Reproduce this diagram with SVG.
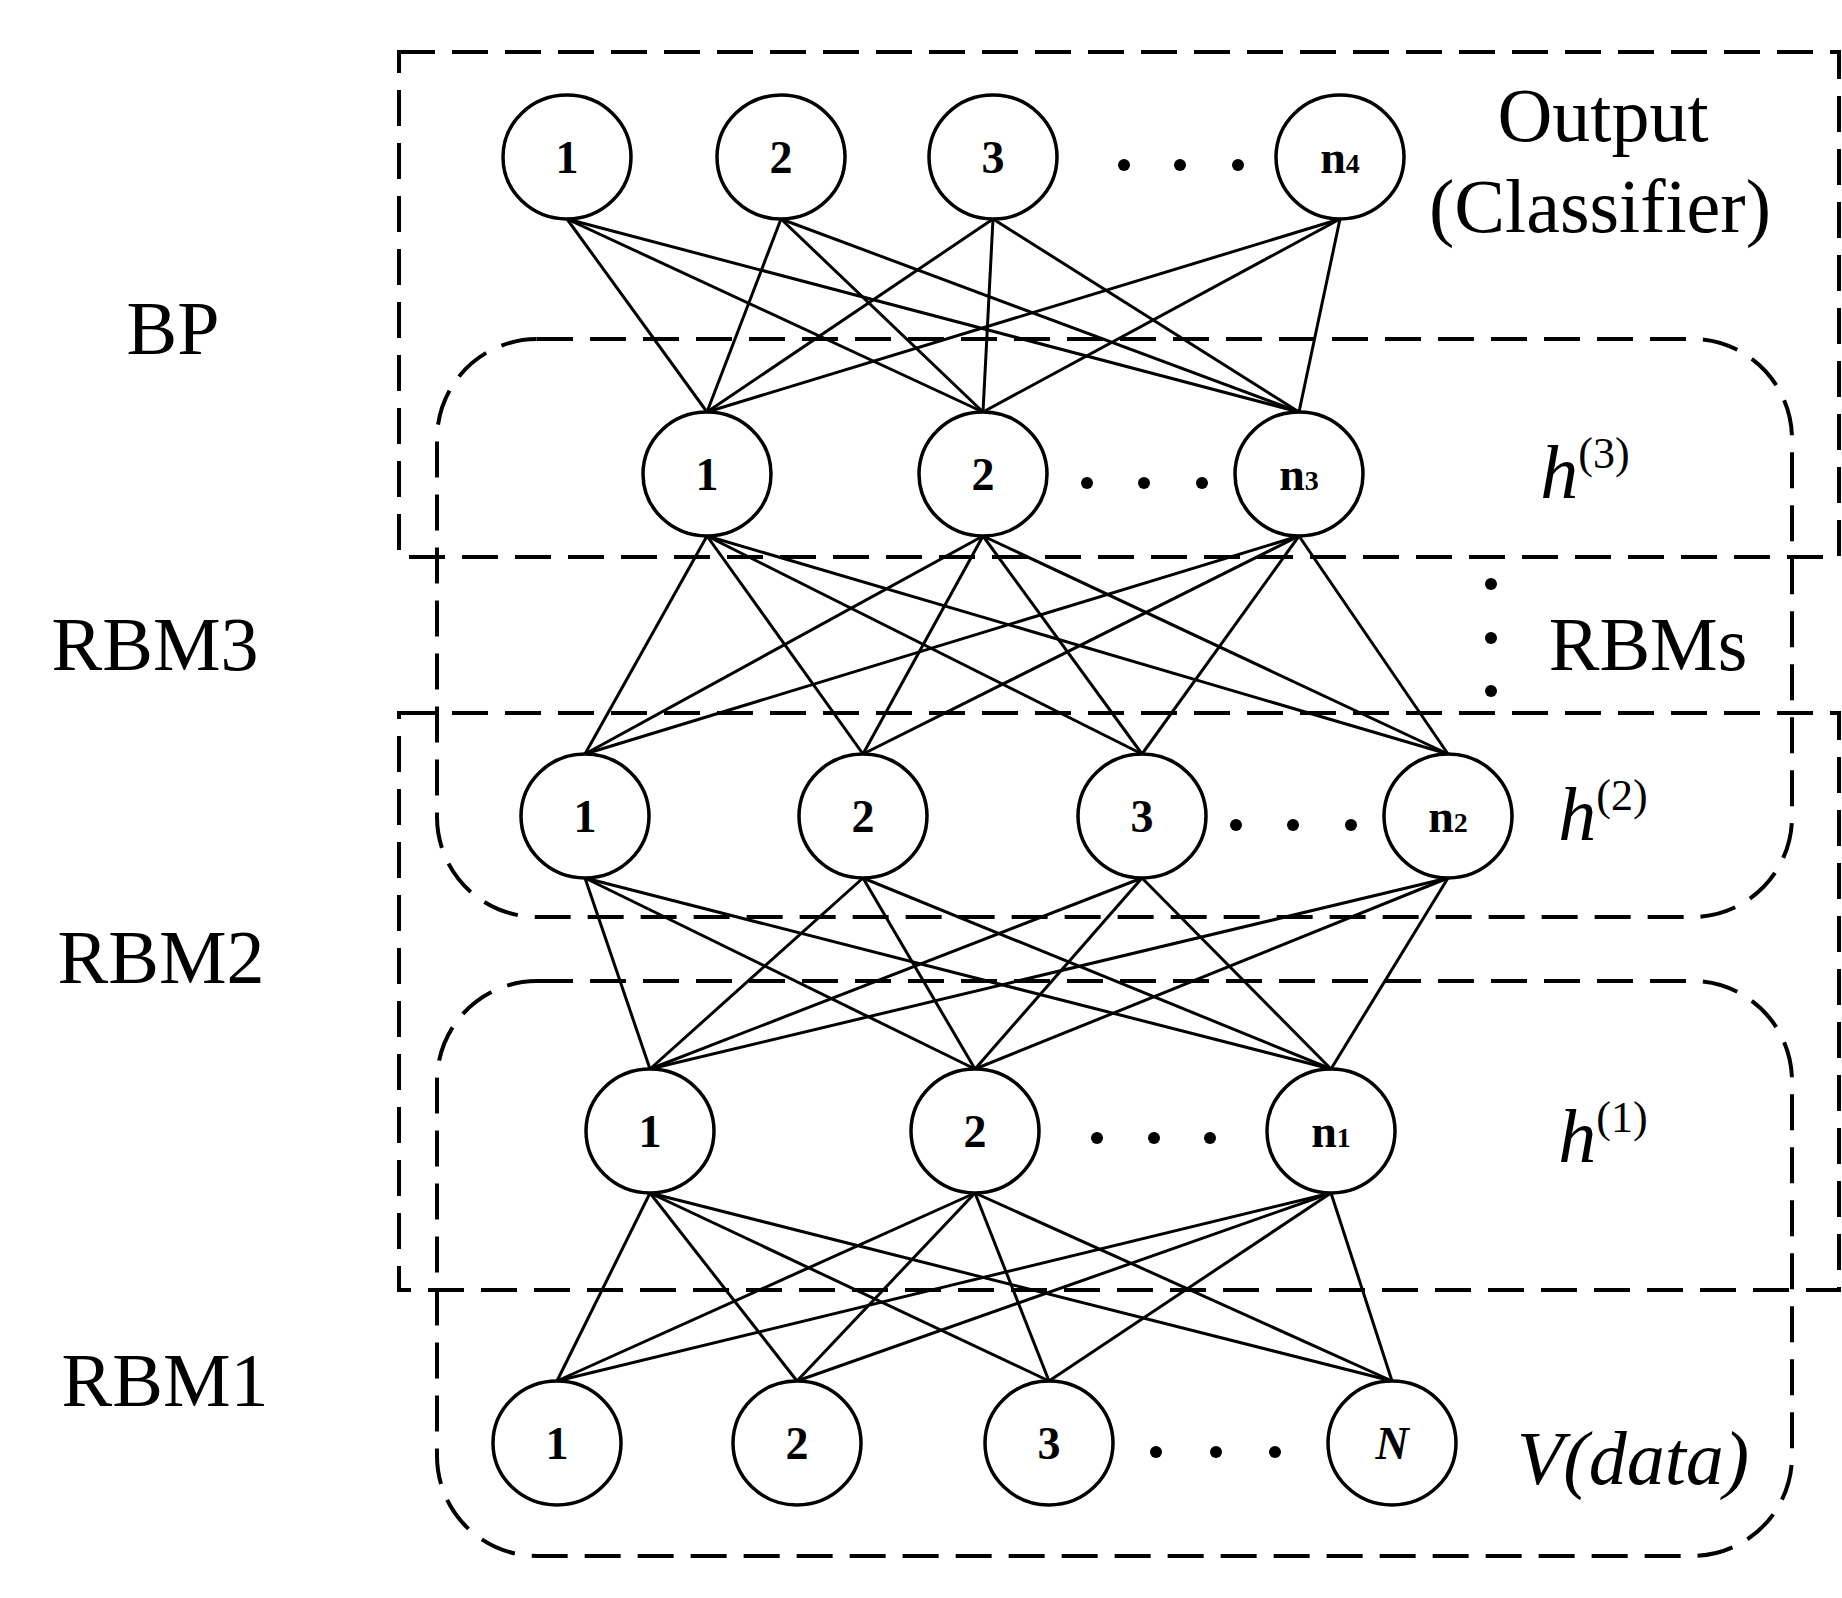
<svg xmlns="http://www.w3.org/2000/svg" width="1842" height="1598" viewBox="0 0 1842 1598">
<style>
.box{fill:none;stroke:#000;stroke-width:4;stroke-dasharray:36 17}
.n{fill:#fff;stroke:#000;stroke-width:3.5}
.t{font-family:"Liberation Serif",serif;font-weight:bold;font-size:46px;text-anchor:middle}
.s{font-size:28px}
.lab{font-family:"Liberation Serif",serif;font-size:76px;text-anchor:middle}
.it{font-family:"Liberation Serif",serif;font-style:italic;font-size:76px;text-anchor:middle}
.sup{font-style:normal;font-size:44px}
.c line{stroke:#000;stroke-width:3}
</style>
<rect width="1842" height="1598" fill="#fff"/>
<g id="boxes">
<rect class="box" x="399" y="52" width="1440" height="505"/>
<rect class="box" x="437" y="339" width="1355" height="578" rx="100"/>
<rect class="box" x="399" y="713" width="1440" height="577"/>
<rect class="box" x="437" y="981" width="1355" height="575" rx="100"/>
</g>
<g class="c" id="connectors">
<!-- L4 to L3 -->
<line x1="567" y1="219" x2="707" y2="412"/><line x1="567" y1="219" x2="983" y2="412"/><line x1="567" y1="219" x2="1299" y2="412"/>
<line x1="781" y1="219" x2="707" y2="412"/><line x1="781" y1="219" x2="983" y2="412"/><line x1="781" y1="219" x2="1299" y2="412"/>
<line x1="993" y1="219" x2="707" y2="412"/><line x1="993" y1="219" x2="983" y2="412"/><line x1="993" y1="219" x2="1299" y2="412"/>
<line x1="1340" y1="219" x2="707" y2="412"/><line x1="1340" y1="219" x2="983" y2="412"/><line x1="1340" y1="219" x2="1299" y2="412"/>
<!-- L3 to L2 -->
<line x1="707" y1="536" x2="585" y2="754"/><line x1="707" y1="536" x2="863" y2="754"/><line x1="707" y1="536" x2="1142" y2="754"/><line x1="707" y1="536" x2="1448" y2="754"/>
<line x1="983" y1="536" x2="585" y2="754"/><line x1="983" y1="536" x2="863" y2="754"/><line x1="983" y1="536" x2="1142" y2="754"/><line x1="983" y1="536" x2="1448" y2="754"/>
<line x1="1299" y1="536" x2="585" y2="754"/><line x1="1299" y1="536" x2="863" y2="754"/><line x1="1299" y1="536" x2="1142" y2="754"/><line x1="1299" y1="536" x2="1448" y2="754"/>
<!-- L2 to L1 -->
<line x1="585" y1="878" x2="650" y2="1069"/><line x1="585" y1="878" x2="975" y2="1069"/><line x1="585" y1="878" x2="1331" y2="1069"/>
<line x1="863" y1="878" x2="650" y2="1069"/><line x1="863" y1="878" x2="975" y2="1069"/><line x1="863" y1="878" x2="1331" y2="1069"/>
<line x1="1142" y1="878" x2="650" y2="1069"/><line x1="1142" y1="878" x2="975" y2="1069"/><line x1="1142" y1="878" x2="1331" y2="1069"/>
<line x1="1448" y1="878" x2="650" y2="1069"/><line x1="1448" y1="878" x2="975" y2="1069"/><line x1="1448" y1="878" x2="1331" y2="1069"/>
<!-- L1 to L0 -->
<line x1="650" y1="1193" x2="557" y2="1381"/><line x1="650" y1="1193" x2="797" y2="1381"/><line x1="650" y1="1193" x2="1049" y2="1381"/><line x1="650" y1="1193" x2="1392" y2="1381"/>
<line x1="975" y1="1193" x2="557" y2="1381"/><line x1="975" y1="1193" x2="797" y2="1381"/><line x1="975" y1="1193" x2="1049" y2="1381"/><line x1="975" y1="1193" x2="1392" y2="1381"/>
<line x1="1331" y1="1193" x2="557" y2="1381"/><line x1="1331" y1="1193" x2="797" y2="1381"/><line x1="1331" y1="1193" x2="1049" y2="1381"/><line x1="1331" y1="1193" x2="1392" y2="1381"/>
</g>
<g id="L4">
<g id="o1"><ellipse class="n" cx="567" cy="157" rx="64" ry="62"/><text class="t" x="567" y="173">1</text></g>
<g id="o2"><ellipse class="n" cx="781" cy="157" rx="64" ry="62"/><text class="t" x="781" y="173">2</text></g>
<g id="o3"><ellipse class="n" cx="993" cy="157" rx="64" ry="62"/><text class="t" x="993" y="173">3</text></g>
<g id="o4"><ellipse class="n" cx="1340" cy="157" rx="64" ry="62"/><text class="t" x="1340" y="173">n<tspan class="s">4</tspan></text></g>
</g>
<g id="L3">
<g id="h31"><ellipse class="n" cx="707" cy="474" rx="64" ry="62"/><text class="t" x="707" y="490">1</text></g>
<g id="h32"><ellipse class="n" cx="983" cy="474" rx="64" ry="62"/><text class="t" x="983" y="490">2</text></g>
<g id="h33"><ellipse class="n" cx="1299" cy="474" rx="64" ry="62"/><text class="t" x="1299" y="490">n<tspan class="s">3</tspan></text></g>
</g>
<g id="L2">
<g id="h21"><ellipse class="n" cx="585" cy="816" rx="64" ry="62"/><text class="t" x="585" y="832">1</text></g>
<g id="h22"><ellipse class="n" cx="863" cy="816" rx="64" ry="62"/><text class="t" x="863" y="832">2</text></g>
<g id="h23"><ellipse class="n" cx="1142" cy="816" rx="64" ry="62"/><text class="t" x="1142" y="832">3</text></g>
<g id="h24"><ellipse class="n" cx="1448" cy="816" rx="64" ry="62"/><text class="t" x="1448" y="832">n<tspan class="s">2</tspan></text></g>
</g>
<g id="L1">
<g id="h11"><ellipse class="n" cx="650" cy="1131" rx="64" ry="62"/><text class="t" x="650" y="1147">1</text></g>
<g id="h12"><ellipse class="n" cx="975" cy="1131" rx="64" ry="62"/><text class="t" x="975" y="1147">2</text></g>
<g id="h13"><ellipse class="n" cx="1331" cy="1131" rx="64" ry="62"/><text class="t" x="1331" y="1147">n<tspan class="s">1</tspan></text></g>
</g>
<g id="L0">
<g id="v1"><ellipse class="n" cx="557" cy="1443" rx="64" ry="62"/><text class="t" x="557" y="1459">1</text></g>
<g id="v2"><ellipse class="n" cx="797" cy="1443" rx="64" ry="62"/><text class="t" x="797" y="1459">2</text></g>
<g id="v3"><ellipse class="n" cx="1049" cy="1443" rx="64" ry="62"/><text class="t" x="1049" y="1459">3</text></g>
<g id="v4"><ellipse class="n" cx="1392" cy="1443" rx="64" ry="62"/><text class="t" x="1392" y="1459" font-style="italic" font-weight="normal">N</text></g>
</g>
<g id="dots">
<circle cx="1124" cy="165" r="6"/><circle cx="1180" cy="165" r="6"/><circle cx="1238" cy="165" r="6"/>
<circle cx="1087" cy="483" r="6"/><circle cx="1144" cy="483" r="6"/><circle cx="1202" cy="483" r="6"/>
<circle cx="1236" cy="825" r="6"/><circle cx="1293" cy="825" r="6"/><circle cx="1351" cy="825" r="6"/>
<circle cx="1097" cy="1138" r="6"/><circle cx="1154" cy="1138" r="6"/><circle cx="1210" cy="1138" r="6"/>
<circle cx="1156" cy="1452" r="6"/><circle cx="1216" cy="1452" r="6"/><circle cx="1275" cy="1452" r="6"/>
<circle cx="1491" cy="584" r="6"/><circle cx="1491" cy="638" r="6"/><circle cx="1491" cy="691" r="6"/>
</g>
<g id="labels">
<text class="lab" x="173" y="354">BP</text>
<text class="lab" x="155" y="670">RBM3</text>
<text class="lab" x="161" y="983">RBM2</text>
<text class="lab" x="165" y="1406">RBM1</text>
<text class="lab" x="1603" y="141">Output</text>
<text class="lab" x="1600" y="232">(Classifier)</text>
<text class="lab" x="1648" y="670">RBMs</text>
<text class="it" x="1585" y="498">h<tspan class="sup" dy="-30">(3)</tspan></text>
<text class="it" x="1603" y="840">h<tspan class="sup" dy="-30">(2)</tspan></text>
<text class="it" x="1603" y="1162">h<tspan class="sup" dy="-30">(1)</tspan></text>
<text class="it" x="1633" y="1484">V(data)</text>
</g>
</svg>
